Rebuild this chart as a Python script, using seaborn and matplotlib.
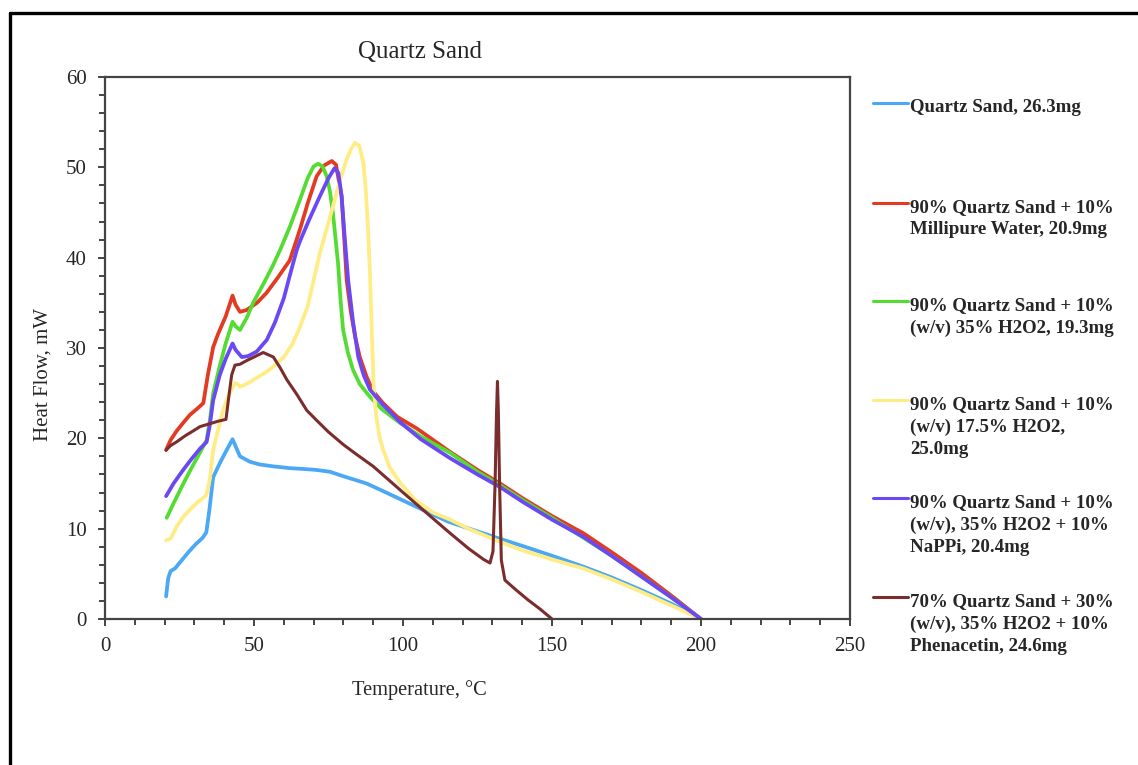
import seaborn as sns
import matplotlib.pyplot as plt
from matplotlib.lines import Line2D
from matplotlib.ticker import MultipleLocator

# --- data (Temperature in C, Heat Flow in mW) ---
blue_t = [20.5, 21.2, 22, 23.5, 26, 28, 30.5, 32.8, 34, 35, 36.3, 38.6, 40.5, 42.8, 43.6, 45.3, 48.7, 52,
          56.4, 62, 67, 71, 75.5, 80, 87.8, 95, 104.6, 115, 125, 131.4, 140, 150, 160.5, 170, 180, 190, 200]
blue_hf = [2.5, 4.5, 5.3, 5.6, 6.6, 7.4, 8.3, 9.0, 9.6, 12.0, 15.7, 17.3, 18.5, 19.9, 19.3, 18.0, 17.4, 17.1,
           16.9, 16.7, 16.6, 16.5, 16.3, 15.8, 15.0, 13.9, 12.4, 10.8, 9.7, 9.0, 8.1, 7.0, 5.8, 4.6, 3.2, 1.7, 0.0]

red_t = [20.5, 22, 24, 26.2, 28.5, 31, 33, 34.5, 36.3, 38, 40.5, 42.8, 43.8, 45.3, 47.5, 51, 54.2, 58, 62,
         65.4, 68, 71, 73.5, 76.1, 77.5, 79.4, 80.3, 81.1, 82.5, 83.9, 85.5, 87.8, 90, 93.3, 98, 104.6,
         115.8, 125, 132.6, 140, 150, 160.5, 170, 180, 190, 200]
red_hf = [18.7, 19.8, 20.8, 21.7, 22.6, 23.3, 23.9, 27.0, 30.1, 31.6, 33.5, 35.8, 34.8, 34.0, 34.2, 35.0,
          36.1, 37.8, 39.7, 43.1, 46.0, 49.0, 50.2, 50.7, 50.3, 46.8, 42.0, 37.5, 34.0, 31.3, 29.0, 26.8,
          25.2, 23.9, 22.4, 21.1, 18.5, 16.5, 15.0, 13.4, 11.4, 9.5, 7.4, 5.1, 2.6, 0.0]

green_t = [20.7, 23, 26, 29, 32, 34.1, 35.2, 36.3, 38.5, 40.5, 42.8, 43.8, 45.3, 47.5, 49.7, 53, 56, 58.7,
           62, 65.4, 68, 70, 71.5, 73, 74.4, 75.5, 76.5, 77.3, 78.2, 79.0, 79.9, 81.5, 83.2, 85.5, 88.9,
           93, 99, 106, 115.8, 125, 132.6, 140, 150, 160.5, 170, 180, 190, 200]
green_hf = [11.2, 12.8, 14.8, 16.7, 18.5, 19.8, 22.0, 25.0, 28.0, 30.5, 32.9, 32.4, 32.0, 33.3, 35.0, 37.0,
            38.9, 40.8, 43.4, 46.4, 48.8, 50.1, 50.4, 50.1, 49.0, 47.3, 44.9, 42.3, 39.4, 35.5, 32.0, 29.5,
            27.6, 26.0, 24.6, 23.2, 21.7, 20.2, 18.4, 16.3, 14.8, 13.2, 11.2, 9.0, 7.0, 4.7, 2.4, 0.0]

yellow_t = [20.5, 22, 24, 26, 28.5, 31, 34, 35.2, 36.3, 38, 39.6, 41.5, 43.6, 44.5, 45.3, 48, 50.9, 53.5,
            56.4, 60, 63, 65.4, 68, 72.1, 75.5, 78.9, 81, 82.5, 83.9, 85.3, 86.7, 87.5, 88.3, 89, 89.5,
            90.2, 91.0, 92.2, 93.4, 95.5, 99, 104, 110, 115.8, 122, 131.4, 140, 150, 160.5, 170, 180,
            190, 200]
yellow_hf = [8.7, 8.9, 10.2, 11.2, 12.1, 12.9, 13.7, 15.5, 18.7, 21.0, 23.1, 24.8, 26.1, 26.0, 25.7, 26.1,
             26.7, 27.2, 27.9, 29.0, 30.5, 32.3, 34.6, 40.5, 44.5, 48.6, 50.8, 52.0, 52.7, 52.4, 50.5,
             47.5, 43.0, 37.5, 32.0, 25.5, 22.5, 20.0, 18.7, 16.8, 15.1, 13.2, 11.8, 11.0, 10.0, 8.7, 7.6,
             6.6, 5.6, 4.4, 3.0, 1.5, 0.0]

purple_t = [20.5, 23, 26, 29, 32, 34.1, 35.2, 36.3, 38.5, 40.5, 42.8, 43.8, 45.9, 48, 50.9, 54.3, 57, 60,
            62, 64.3, 65.4, 68.5, 72.1, 75, 77, 78.3, 79.4, 80.5, 81.6, 83.2, 85, 86.8, 88.9, 93, 99, 106,
            115.8, 125, 132.6, 140, 150, 160.5, 170, 180, 190, 200]
purple_hf = [13.6, 15.0, 16.4, 17.7, 18.9, 19.6, 21.5, 24.2, 27.0, 28.8, 30.5, 29.8, 29.0, 29.1, 29.6, 30.9,
             32.8, 35.5, 38.0, 40.8, 41.8, 44.2, 46.8, 48.8, 49.9, 49.4, 46.8, 42.0, 37.5, 33.0, 29.0,
             27.0, 25.4, 23.8, 21.8, 19.9, 17.8, 16.0, 14.6, 13.0, 11.0, 9.1, 7.0, 4.7, 2.4, 0.0]

brown_t = [20.5, 22, 24, 27, 29.5, 31.9, 35, 38, 40.6, 41.5, 42.5, 43.6, 45.3, 47.5, 50, 53.1, 56.5, 58.8,
           61, 64.5, 67.7, 71, 75, 80, 84.5, 90, 99, 107, 115.8, 122, 127, 129.2, 130.2, 130.9, 131.4,
           131.7, 132.0, 132.4, 133.0, 134.2, 138, 142, 146, 150]
brown_hf = [18.7, 19.2, 19.6, 20.3, 20.8, 21.3, 21.6, 21.9, 22.1, 24.5, 27.0, 28.1, 28.2, 28.6, 29.0, 29.5,
            29.0, 27.8, 26.5, 24.8, 23.1, 22.0, 20.7, 19.3, 18.2, 16.9, 14.3, 12.0, 9.5, 7.8, 6.6, 6.2,
            7.5, 15.0, 23.0, 26.3, 23.0, 15.0, 6.5, 4.3, 3.2, 2.1, 1.1, 0.0]

labels = [
    "Quartz Sand, 26.3mg",
    "90% Quartz Sand + 10%\nMillipure Water, 20.9mg",
    "90% Quartz Sand + 10%\n(w/v) 35% H2O2, 19.3mg",
    "90% Quartz Sand + 10%\n(w/v) 17.5% H2O2,\n25.0mg",
    "90% Quartz Sand + 10%\n(w/v), 35% H2O2 + 10%\nNaPPi, 20.4mg",
    "70% Quartz Sand + 30%\n(w/v), 35% H2O2 + 10%\nPhenacetin, 24.6mg",
]
colors = ["#4aa8f5", "#e23b22", "#55dc33", "#ffec85", "#6b48f5", "#7b2d2d"]
series = [(blue_t, blue_hf), (red_t, red_hf), (green_t, green_hf),
          (yellow_t, yellow_hf), (purple_t, purple_hf), (brown_t, brown_hf)]


def main():
    sns.set_style("white")
    plt.rcParams['font.family'] = ['Liberation Serif', 'DejaVu Serif']

    W, H = 1138, 765
    fig = plt.figure(figsize=(W / 100, H / 100), dpi=100)
    ax = fig.add_axes([105 / W, 1 - 619 / H, (850 - 105) / W, (619 - 77) / H])

    for (t, hf), c in zip(series, colors):
        lw = 2.2 if c == "#7b2d2d" else 2.7
        sns.lineplot(x=t, y=hf, color=c, lw=lw, estimator=None, sort=False, ax=ax)

    ax.set_xlim(0, 250)
    ax.set_ylim(0, 60)
    ax.xaxis.set_major_locator(MultipleLocator(50))
    ax.xaxis.set_minor_locator(MultipleLocator(10))
    ax.yaxis.set_major_locator(MultipleLocator(10))
    ax.yaxis.set_minor_locator(MultipleLocator(2))
    ax.tick_params(which='both', direction='out', color='#444444', width=1.4,
                   left=True, bottom=True, labelsize=15, pad=8)
    ax.tick_params(which='major', length=5)
    ax.tick_params(which='minor', length=4)
    for s in ax.spines.values():
        s.set_color('#444444')
        s.set_linewidth(1.6)

    ax.set_title("Quartz Sand", fontsize=18, x=0.423, y=1.02)
    ax.set_xlabel("Temperature, °C", fontsize=14.7)
    ax.set_ylabel("Heat Flow, mW", fontsize=15)
    ax.xaxis.set_label_coords(0.4215, -0.112)
    ax.yaxis.set_label_coords(-0.071, 0.452)

    # legend on the right, handle level with first text line
    rows = [105, 205, 303, 402, 500, 599]
    for y, c, lab in zip(rows, colors, labels):
        fig.add_artist(Line2D([873 / W, 908 / W], [1 - (y - 2) / H, 1 - (y - 2) / H], color=c, lw=2.2))
        fig.text(910 / W, 1 - (y - 6) / H, lab, fontsize=13.6, fontweight='bold',
                 va='top', ha='left', linespacing=1.4)

    # outer frame of the pasted chart
    fig.add_artist(Line2D([10 / W, 10 / W], [0, 1 - 13 / H], color='black', lw=2.4))
    fig.add_artist(Line2D([10 / W, 1], [1 - 13 / H, 1 - 13 / H], color='black', lw=2.4))

    fig.savefig("out.png", dpi=100)


if __name__ == '__main__':
    main()
